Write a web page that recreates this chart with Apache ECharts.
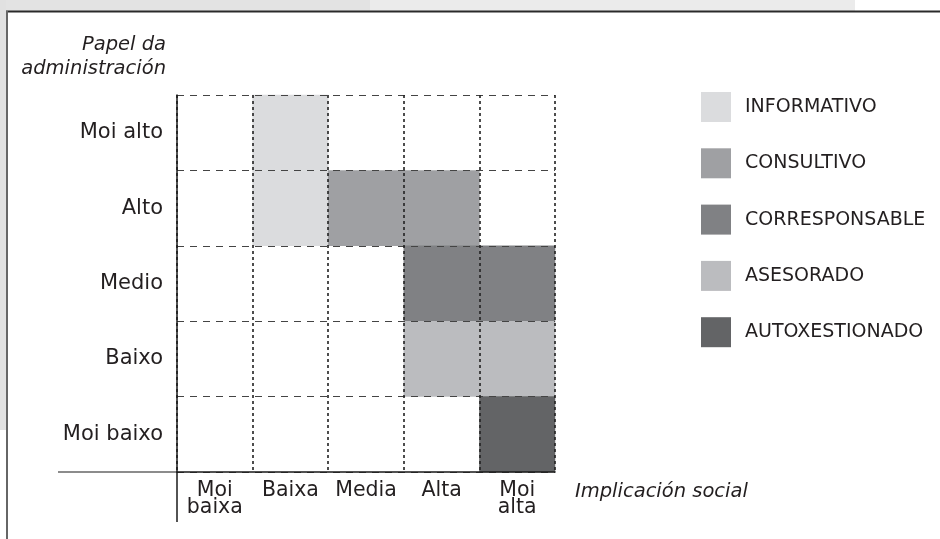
<!DOCTYPE html>
<html><head><meta charset="utf-8">
<script src="https://cdn.jsdelivr.net/npm/echarts@6/dist/echarts.min.js"></script>
<style>html,body{margin:0;padding:0;background:#fff}#c{width:940px;height:539px}</style>
</head><body><div id="c"></div>
<script>
// Categories
const xCategories = ['Moi\nbaixa', 'Baixa', 'Media', 'Alta', 'Moi\nalta'];
const yCategories = ['Moi baixo', 'Baixo', 'Medio', 'Alto', 'Moi alto'];
// Participation types (legend order)
const typeNames = ['INFORMATIVO', 'CONSULTIVO', 'CORRESPONSABLE', 'ASESORADO', 'AUTOXESTIONADO'];
const typeColors = ['#dbdcde', '#9fa0a3', '#808184', '#bbbcbf', '#636466'];
// Cells [xIndex, yIndex] for each type
const informativoCells = [[1, 4], [1, 3]];
const consultivoCells = [[2, 3], [3, 3]];
const corresponsableCells = [[3, 2], [4, 2]];
const asesoradoCells = [[3, 1], [4, 1]];
const autoxestionadoCells = [[4, 0]];
const cellsByType = [informativoCells, consultivoCells, corresponsableCells, asesoradoCells, autoxestionadoCells];
const yAxisTitle = 'Papel da\nadministración';
const xAxisTitle = 'Implicación social';

const FONT = '"DejaVu Sans"';
const TXT = '#231f20';
const G = { left: 177, top: 95, width: 378, height: 377 };

const chart = echarts.init(document.getElementById('c'), null, { renderer: 'canvas' });

const series = typeNames.map((name, i) => ({
  name: name,
  type: 'heatmap',
  z: 1,
  data: cellsByType[i].map(c => [c[0], c[1], 1]),
  itemStyle: { color: typeColors[i] },
  emphasis: { disabled: true },
  label: { show: false }
}));

chart.setOption({
  animation: false,
  backgroundColor: '#fff',
  grid: { left: G.left, top: G.top, width: G.width, height: G.height },
  xAxis: {
    type: 'category', data: xCategories, boundaryGap: true, z: 5,
    axisLine: { show: true, lineStyle: { color: '#1a1a1a', width: 1.5 } },
    axisTick: { show: false },
    splitLine: { show: true, lineStyle: { color: '#222', width: 1.6, type: [3, 3] } },
    axisLabel: { color: TXT, fontFamily: FONT, fontSize: 20.5, lineHeight: 17, margin: 10, interval: 0 }
  },
  yAxis: {
    type: 'category', data: yCategories, boundaryGap: true, z: 5,
    axisLine: { show: true, lineStyle: { color: '#1a1a1a', width: 1.5 } },
    axisTick: { show: false },
    splitLine: { show: true, lineStyle: { color: '#444', width: 1.2, type: [7, 6] } },
    axisLabel: { color: TXT, fontFamily: FONT, fontSize: 21, margin: 14 }
  },
  legend: {
    orient: 'vertical', left: 696, top: 87,
    itemWidth: 30, itemHeight: 30, itemGap: 26.3,
    icon: 'rect', selectedMode: false,
    data: typeNames,
    textStyle: { color: TXT, fontFamily: FONT, fontSize: 19, padding: [0, 0, 0, 9] }
  },
  series: series,
  graphic: [
    { type: 'rect', silent: true, z: -10, shape: { x: 0, y: 0, width: 370, height: 11 }, style: { fill: '#e3e3e3' } },
    { type: 'rect', silent: true, z: -10, shape: { x: 370, y: 0, width: 485, height: 11 }, style: { fill: '#ebebeb' } },
    { type: 'rect', silent: true, z: -10, shape: { x: 0, y: 0, width: 6, height: 430 }, style: { fill: '#e1e1e1' } },
    { type: 'line', silent: true, z: 10, shape: { x1: 6, y1: 11.5, x2: 940, y2: 11.5 }, style: { stroke: '#2a2a2a', lineWidth: 2 } },
    { type: 'line', silent: true, z: 10, shape: { x1: 7, y1: 11, x2: 7, y2: 539 }, style: { stroke: '#666', lineWidth: 2 } },
    { type: 'line', silent: true, z: 10, shape: { x1: 58, y1: 472, x2: 177, y2: 472 }, style: { stroke: '#1a1a1a', lineWidth: 1.2 } },
    { type: 'line', silent: true, z: 10, shape: { x1: 177, y1: 472, x2: 177, y2: 522 }, style: { stroke: '#1a1a1a', lineWidth: 1.5 } },
    { type: 'text', silent: true, z: 10, x: 166, y: 57,
      style: { text: yAxisTitle, fill: TXT, font: 'italic 19.5px ' + FONT, align: 'right', verticalAlign: 'middle', lineHeight: 24 } },
    { type: 'text', silent: true, z: 10, x: 575, y: 492,
      style: { text: xAxisTitle, fill: TXT, font: 'italic 19.5px ' + FONT, align: 'left', verticalAlign: 'middle' } }
  ]
});
</script>
</body></html>
